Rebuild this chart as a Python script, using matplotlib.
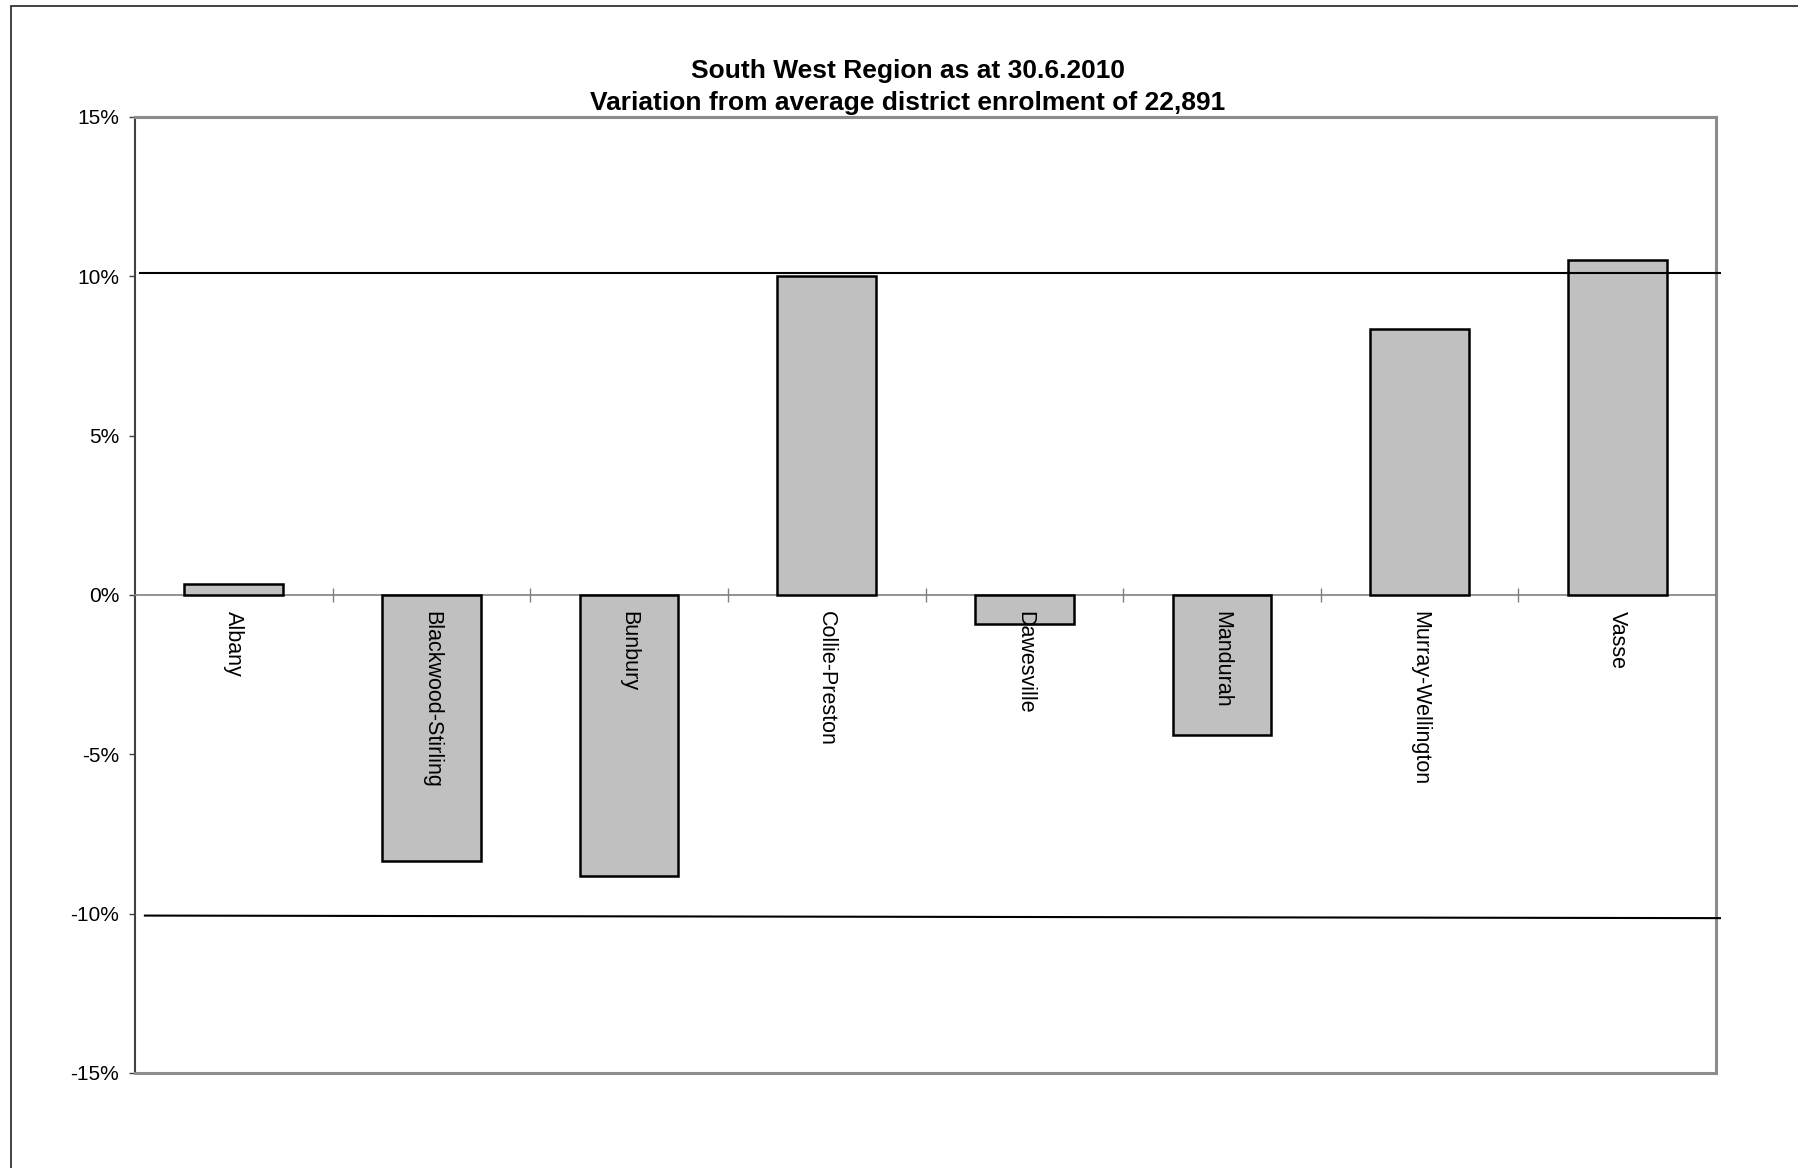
import matplotlib
matplotlib.use('Agg')
import numpy as np
import matplotlib.pyplot as plt
from matplotlib.patches import Rectangle
from matplotlib.ticker import FuncFormatter

categories = ["Albany", "Blackwood-Stirling", "Bunbury", "Collie-Preston",
              "Dawesville", "Mandurah", "Murray-Wellington", "Vasse"]
variation = [0.35, -8.35, -8.82, 10.0, -0.92, -4.38, 8.35, 10.5]
yticks = [-15, -10, -5, 0, 5, 10, 15]
upper_limit_x = [-0.475, 7.52]
upper_limit_y = [10.12, 10.12]
lower_limit_x = [-0.45, 7.52]
lower_limit_y = [-10.06, -10.14]
title_line1 = "South West Region as at 30.6.2010"
title_line2 = "Variation from average district enrolment of 22,891"

plt.rcParams['font.family'] = ['Liberation Sans', 'DejaVu Sans']

W, H = 1798, 1168
fig = plt.figure(figsize=(W / 100, H / 100), dpi=100)
fig.patch.set_facecolor('white')

ax = fig.add_axes([135 / W, 1 - 1073 / H, (1716 - 135) / W, (1073 - 117) / H])
x = np.arange(len(categories))
ax.bar(x, variation, width=0.5, color='#c0c0c0', edgecolor='black',
       linewidth=1.8, zorder=3)
ax.set_xlim(-0.5, len(categories) - 0.5)
ax.set_ylim(-15, 15)

# spines
ax.spines['left'].set_color('#404040')
ax.spines['left'].set_linewidth(1.5)
for s in ('top', 'right'):
    ax.spines[s].set_color('#8c8c8c')
    ax.spines[s].set_linewidth(2.2)
ax.spines['bottom'].set_position(('data', 0))
ax.spines['bottom'].set_color('#808080')
ax.spines['bottom'].set_linewidth(1.2)
ax.axhline(-15, color='#8c8c8c', lw=2.2, clip_on=False, zorder=4)

# reference lines
ax.plot(upper_limit_x, upper_limit_y, color='black', lw=1.5, clip_on=False, zorder=4)
ax.plot(lower_limit_x, lower_limit_y, color='black', lw=1.5, clip_on=False, zorder=4)

# ticks
ax.set_xticks(np.arange(0.5, len(categories) - 1, 1.0))
ax.tick_params(axis='x', direction='inout', length=9.5, width=1,
               color='#808080', labelbottom=False)
ax.set_yticks(yticks)
ax.yaxis.set_major_formatter(FuncFormatter(lambda v, p: f"{v:.0f}%"))
ax.tick_params(axis='y', direction='out', length=4.3, width=1,
               color='#404040', pad=7, labelsize=15)

# category labels
for i, c in enumerate(categories):
    ax.annotate(c, xy=(i, 0), xytext=(0, -11.5), textcoords='offset points',
                rotation=-90, ha='center', va='top', fontsize=15.5, zorder=5)

# title
fig.text(908 / W, 1 - 78 / H, title_line1, ha='center', va='baseline',
         fontsize=19, fontweight='bold')
fig.text(908 / W, 1 - 110 / H, title_line2, ha='center', va='baseline',
         fontsize=19, fontweight='bold')

# outer frame (only left and top visible)
fig.add_artist(Rectangle((11 / W, -0.2), 1.5, 1.2 - 6 / H,
                         transform=fig.transFigure, fill=False,
                         edgecolor='#333333', lw=1.3))

fig.savefig('out.png', dpi=100)
